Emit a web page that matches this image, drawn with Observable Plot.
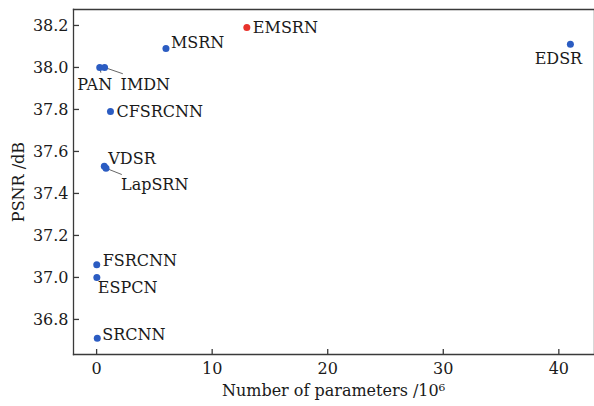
<!DOCTYPE html>
<html><head><meta charset="utf-8">
<script src="https://cdn.jsdelivr.net/npm/d3@7"></script>
<script src="https://cdn.jsdelivr.net/npm/@observablehq/plot@0.6"></script>
<style>body{margin:0;background:#fff}</style>
</head><body><div id="chart"></div>
<script>
// Data
const models = ["SRCNN","ESPCN","FSRCNN","VDSR","LapSRN","PAN","IMDN","CFSRCNN","MSRN","EMSRN","EDSR"];
const params = [0.057, 0.02, 0.012, 0.665, 0.813, 0.27, 0.69, 1.2, 6.0, 13.0, 41.0];
const psnr   = [36.71, 37.00, 37.06, 37.53, 37.52, 38.00, 38.00, 37.79, 38.09, 38.19, 38.11];
const highlight = "EMSRN";
const xTicks = [0, 10, 20, 30, 40];
const yTicks = [36.8, 37.0, 37.2, 37.4, 37.6, 37.8, 38.0, 38.2];
// leader lines: model -> end point (data units)
const leaderModels = ["PAN", "IMDN", "LapSRN"];
const leaderEndX = [0.37, 2.27, 2.18];
const leaderEndY = [37.975, 37.97, 37.49];

const rows = models.map((m, i) => ({model: m, x: params[i], y: psnr[i]}));
const leaders = leaderModels.map((m, i) => {
  const r = rows.find(d => d.model === m);
  return {x1: r.x, y1: r.y, x2: leaderEndX[i], y2: leaderEndY[i]};
});

// label placement (pixels)
const place = {
  SRCNN:   {dx: 5,   dy: -3, a: "start"},
  ESPCN:   {dx: 1,   dy: 10, a: "start"},
  FSRCNN:  {dx: 6,   dy: -4, a: "start"},
  VDSR:    {dx: 4,   dy: -7, a: "start"},
  LapSRN:  {dx: 15,  dy: 17, a: "start"},
  PAN:     {dx: -5,  dy: 17, a: "middle"},
  IMDN:    {dx: 16,  dy: 17, a: "start"},
  CFSRCNN: {dx: 6,   dy: 0,  a: "start"},
  MSRN:    {dx: 5,   dy: -6, a: "start"},
  EMSRN:   {dx: 6,   dy: 0,  a: "start"},
  EDSR:    {dx: -12, dy: 15, a: "middle"}
};

const font = "DejaVu Serif";
const ink = "#1a1a1a";
const axisInk = "#3a3a3a";

const chart = Plot.plot({
  width: 594, height: 406,
  marginLeft: 73, marginRight: 1, marginTop: 9, marginBottom: 52,
  style: {fontFamily: font, fontSize: "16px", color: ink, background: "#fff"},
  x: {domain: [-2, 43]},
  y: {domain: [36.633, 38.276]},
  marks: [
    Plot.frame({anchor: "right", stroke: "#d8d8d8", strokeWidth: 1}),
    Plot.frame({anchor: "top", stroke: axisInk, strokeWidth: 1.3}),
    Plot.frame({anchor: "bottom", stroke: axisInk, strokeWidth: 1.3}),
    Plot.frame({anchor: "left", stroke: axisInk, strokeWidth: 1.3}),
    Plot.tickX(xTicks, {x: d => d, insetTop: 340, stroke: axisInk, strokeWidth: 1.3}),
    Plot.tickY(yTicks, {y: d => d, insetRight: 514, stroke: axisInk, strokeWidth: 1.3}),
    Plot.axisX(xTicks, {tickSize: 0, tickPadding: 8, fontSize: 16, fill: ink,
      label: "Number of parameters /10⁶", labelAnchor: "center", labelOffset: 41, labelArrow: "none"}),
    Plot.axisY(yTicks, {tickSize: 0, tickPadding: 5, fontSize: 16, fill: ink, tickFormat: d => d.toFixed(1),
      label: "PSNR /dB", labelAnchor: "center", labelOffset: 61, labelArrow: "none"}),
    Plot.link(leaders, {x1: "x1", y1: "y1", x2: "x2", y2: "y2", stroke: "#666", strokeWidth: 1}),
    Plot.dot(rows, {x: "x", y: "y", r: 3.5, fill: d => d.model === highlight ? "#e8322c" : "#2b5cc2", stroke: "none"}),
    ...rows.map(d => Plot.text([d], {x: "x", y: "y", text: "model",
      dx: place[d.model].dx, dy: place[d.model].dy, textAnchor: place[d.model].a,
      fontSize: 16, fill: ink, fontFamily: font}))
  ]
});
document.getElementById("chart").append(chart);
</script>
</body></html>
